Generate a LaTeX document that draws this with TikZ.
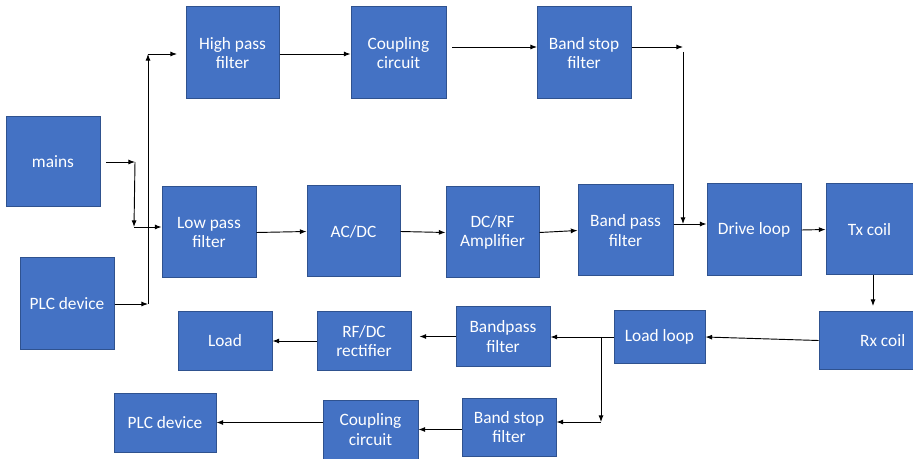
\documentclass[tikz,border=0pt]{standalone}
\usepackage{fontspec}
\setmainfont{Carlito}
\usetikzlibrary{arrows.meta}
\definecolor{boxblue}{HTML}{4472C4}
\definecolor{boxline}{HTML}{2F528F}
\tikzset{
  blk/.style={draw=boxline, fill=boxblue, text=white, line width=0.75pt, inner sep=0pt,
    align=center, font=\fontsize{13}{14.5}\selectfont},
  arr/.style={-{Latex[length=5pt,width=3.8pt]}, line width=0.7pt, draw=black}
}
\begin{document}
\begin{tikzpicture}[x=0.75pt,y=-0.75pt]
\useasboundingbox[fill=white] (0,0) rectangle (913,459);
% boxes
\node[blk, minimum width=69.75pt, minimum height=69pt] (hpf) at (232.5,53) {High pass\\filter};
\node[blk, minimum width=71.25pt, minimum height=69pt] (cpl1) at (398.5,53) {Coupling\\circuit};
\node[blk, minimum width=70.5pt, minimum height=69pt] (bsf1) at (584,53) {Band stop\\filter};
\node[blk, minimum width=70.5pt, minimum height=67.5pt] (mains) at (53,162) {mains};
\node[blk, minimum width=70.5pt, minimum height=68.25pt] (plc1) at (67,303.5) {PLC device};
\node[blk, minimum width=70.5pt, minimum height=68.25pt] (lpf) at (209,232.5) {Low pass\\filter};
\node[blk, minimum width=69.75pt, minimum height=68.25pt] (acdc) at (353.5,231.5) {AC/DC};
\node[blk, minimum width=69.75pt, minimum height=68.25pt] (dcrf) at (492.5,232.5) {DC/RF\\Amplifier};
\node[blk, minimum width=71.25pt, minimum height=68.25pt] (bpf) at (625.5,230.5) {Band pass\\filter};
\node[blk, minimum width=70.5pt, minimum height=69pt] (drv) at (754,230) {Drive loop};
\node[blk, minimum width=65.25pt, minimum height=68.25pt] (tx) at (869.5,229.5) {Tx coil};
\node[blk, minimum width=70.5pt, minimum height=42.75pt] (rx) at (866,340.5) {\hspace*{25pt}Rx coil};
\node[blk, minimum width=68.25pt, minimum height=39pt] (ll) at (659.5,337) {Load loop};
\node[blk, minimum width=70.5pt, minimum height=44.25pt] (bp2) at (503,336.5) {Bandpass\\filter};
\node[blk, minimum width=70.5pt, minimum height=43.5pt] (rf) at (364,341) {RF/DC\\rectifier};
\node[blk, minimum width=70.5pt, minimum height=43.5pt] (load) at (225,341) {Load};
\node[blk, minimum width=70.5pt, minimum height=43.5pt] (bs2) at (509,427) {Band stop\\filter};
\node[blk, minimum width=71.25pt, minimum height=44.25pt] (cpl2) at (370.5,429.5) {Coupling\\circuit};
\node[blk, minimum width=76.5pt, minimum height=44.25pt] (plc2) at (165,422.5) {PLC device};
% junction coordinates
\coordinate (j1) at (135,162);
\coordinate (j2) at (134,227);
\coordinate (t1) at (148,54);
\coordinate (t2) at (148,304);
\coordinate (h1) at (177,54);
\coordinate (c1) at (452,47);
\coordinate (c2) at (537,47);
\coordinate (b1) at (683,47);
\coordinate (b1s) at (683,52);
\coordinate (b2) at (683,224);
\coordinate (s1) at (601,337);
\coordinate (s2) at (601,422);
\coordinate (r1) at (873,306);
\coordinate (m1) at (106,162);
% connectors
\draw[arr] (m1) -- (j1);
\draw[arr] (j1) -- (j2);
\draw[arr] (j2) -- (lpf.west |- j2);
\draw[arr] (plc1.east |- t2) -- (t2);
\draw[arr] (t2) -- (t1);
\draw[arr] (t1) -- (h1);
\draw[arr] (hpf.east |- t1) -- (cpl1.west |- t1);
\draw[arr] (c1) -- (c2);
\draw[arr] (bsf1.east |- b1) -- (b1);
\draw[arr] (b1s) -- (b2);
\draw[arr] (bpf.east |- b2) -- (drv.west |- b2);
\draw[arr] (lpf.east) -- (acdc.west);
\draw[arr] (acdc.east) -- (dcrf.west);
\draw[arr] (dcrf.east) -- (bpf.west);
\draw[arr] (drv.east) -- (tx.west);
\draw[arr] (tx.south -| r1) -- (r1);
\draw[arr] (rx.west) -- (ll.east);
\draw[arr] (ll.west) -- (bp2.east |- ll.west);
\draw[arr] (s1) -- (s2);
\draw[arr] (s2) -- (bs2.east |- s2);
\draw[arr] (bp2.west) -- ([xshift=6pt]rf.east |- bp2.west);
\draw[arr] (rf.west) -- (load.east);
\draw[arr] (bs2.west |- cpl2.east) -- (cpl2.east);
\draw[arr] (cpl2.west |- plc2.east) -- (plc2.east);
\end{tikzpicture}
\end{document}
